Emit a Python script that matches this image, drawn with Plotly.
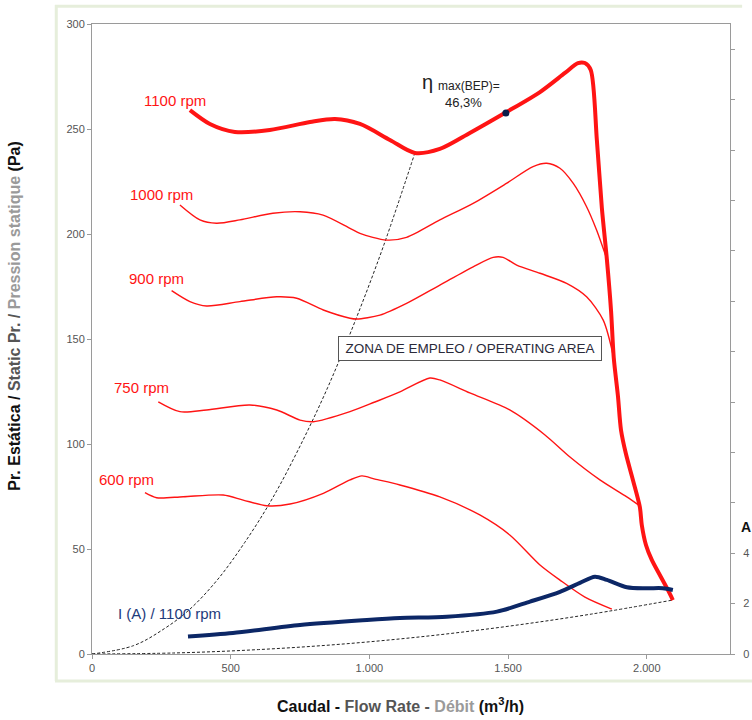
import plotly.graph_objects as go

# ---- Fan curves: static pressure (Pa) vs flow rate (m3/h) ----
q_1100 = [353, 425, 515, 641, 786, 876, 966, 1074, 1164, 1254, 1362, 1488, 1615, 1705, 1752, 1777,
          1798, 1820, 1838, 1856, 1871, 1881, 1896, 1907, 1925, 1950, 1975, 1982, 1997, 2018, 2047, 2076, 2094]
p_1100 = [259.0, 252.4, 248.6, 249.5, 253.3, 254.8, 252.4, 244.8, 238.6, 240.5, 248.1, 257.6, 267.6, 276.7, 281.4, 281.4,
          278.1, 244.8, 212.4, 188.1, 163.8, 141.0, 122.9, 106.7, 95.2, 82.9, 70.0, 61.4, 51.9, 44.8, 37.6, 30.5, 25.7]

q_1000 = [317, 389, 449, 533, 652, 750, 833, 930, 966, 1062, 1134, 1254, 1374, 1494, 1590, 1639, 1687, 1735, 1783, 1819, 1856]
p_1000 = [213.8, 206.7, 205.1, 206.7, 209.9, 210.6, 209.0, 202.7, 200.3, 197.1, 198.4, 206.7, 214.6, 224.1, 232.1, 233.7,
          231.3, 224.1, 213.0, 201.9, 188.1]

q_900 = [287, 353, 413, 533, 666, 738, 834, 930, 954, 1038, 1134, 1254, 1374, 1446, 1482, 1531, 1615, 1711, 1783, 1843, 1881]
p_900 = [173.0, 167.8, 165.7, 167.8, 170.1, 169.4, 163.8, 159.9, 159.5, 161.4, 167.0, 175.7, 184.4, 188.9, 188.9, 185.2,
         181.3, 176.5, 170.1, 159.0, 141.0]

q_750 = [239, 317, 413, 569, 666, 750, 798, 930, 1020, 1110, 1218, 1254, 1362, 1506, 1633, 1723, 1831, 1928, 1975]
p_750 = [120.1, 115.4, 116.2, 118.6, 116.2, 111.4, 110.6, 115.4, 120.0, 124.8, 131.4, 130.5, 124.3, 116.2, 104.3, 93.8,
         82.9, 74.8, 70.5]

q_600 = [191, 233, 329, 473, 545, 630, 714, 834, 930, 973, 1020, 1110, 1254, 1398, 1506, 1615, 1687, 1777, 1874]
p_600 = [76.8, 74.4, 74.9, 75.7, 73.3, 70.6, 71.4, 76.5, 82.9, 84.8, 83.3, 80.5, 74.8, 66.2, 56.7, 42.4, 35.2, 27.1, 21.4]

# Motor current at 1100 rpm (A, right axis)
q_amp = [346, 508, 750, 991, 1110, 1279, 1460, 1579, 1687, 1759, 1813, 1856, 1928, 2000, 2058, 2094]
i_amp = [0.69, 0.83, 1.15, 1.35, 1.43, 1.48, 1.68, 2.08, 2.47, 2.82, 3.07, 2.94, 2.65, 2.61, 2.61, 2.54]

# Operating-area boundaries (system curves)
q_sys_hi = [0, 150, 260, 350, 450, 550, 650, 750, 850, 950, 1050, 1164]
p_sys_hi = [0, 4, 12, 21, 35, 53, 74, 99, 127, 159, 194, 238.6]
q_sys_lo = [0, 300, 600, 900, 1200, 1500, 1800, 2094]
p_sys_lo = [0, 0.5, 2.1, 4.7, 8.4, 13.2, 19.0, 25.7]

# Best efficiency point
bep_q = [1492]
bep_p = [257.6]

x_ticks = [0, 500, 1000, 1500, 2000]
x_tick_text = ["0", "500", "1.000", "1.500", "2.000"]
y_ticks = [0, 50, 100, 150, 200, 250, 300]
amp_ticks = [0, 2, 4]

rpm_labels = ["1100 rpm", "1000 rpm", "900 rpm", "750 rpm", "600 rpm"]
rpm_label_pos = [(299, 263.8), (252, 219.0), (234, 178.6), (180, 127.0), (126, 82.9)]

RED = "#ff1414"
NAVY = "#0c2766"
FONT = "Liberation Sans, Arial, sans-serif"

fig = go.Figure()

dash_line = dict(color="#222222", width=1, dash="3px,2px")
fig.add_trace(go.Scatter(x=q_sys_hi, y=p_sys_hi, mode="lines", line=dict(**dash_line, shape="spline"),
                         hoverinfo="skip"))
fig.add_trace(go.Scatter(x=q_sys_lo, y=p_sys_lo, mode="lines", line=dict(**dash_line, shape="spline"),
                         hoverinfo="skip"))

for qs, ps in [(q_1000, p_1000), (q_900, p_900), (q_750, p_750), (q_600, p_600)]:
    fig.add_trace(go.Scatter(x=qs, y=ps, mode="lines",
                             line=dict(color=RED, width=1.4, shape="spline", smoothing=0.8)))

fig.add_trace(go.Scatter(x=q_1100, y=p_1100, mode="lines",
                         line=dict(color=RED, width=4, shape="spline", smoothing=0.8)))

fig.add_trace(go.Scatter(x=q_amp, y=i_amp, mode="lines", yaxis="y2",
                         line=dict(color=NAVY, width=4, shape="spline", smoothing=0.8)))

fig.add_trace(go.Scatter(x=bep_q, y=bep_p, mode="markers",
                         marker=dict(color="#0b1d4a", size=7)))

annotations = []
for txt, (ax_, ay_) in zip(rpm_labels, rpm_label_pos):
    annotations.append(dict(x=ax_, y=ay_, text=txt, showarrow=False,
                            font=dict(family=FONT, size=15, color=RED)))
annotations.append(dict(x=281, y=19.5, text="I (A) / 1100 rpm", showarrow=False,
                        font=dict(family=FONT, size=15, color="#1d3a7a")))

# efficiency label
annotations.append(dict(x=1208, y=272.5, text="η", showarrow=False, xanchor="center",
                        font=dict(family=FONT, size=20, color="#222")))
annotations.append(dict(x=1240, y=270.5, text="max(BEP)=", showarrow=False, xanchor="left",
                        font=dict(family=FONT, size=12, color="#222")))
annotations.append(dict(x=1340, y=262.5, text="46,3%", showarrow=False, xanchor="center",
                        font=dict(family=FONT, size=13, color="#222")))

# operating area box
annotations.append(dict(x=1362, y=145.7, text="ZONA DE EMPLEO / OPERATING AREA", showarrow=False,
                        bgcolor="white", bordercolor="#555", borderwidth=1, borderpad=2,
                        width=258, height=19,
                        font=dict(family=FONT, size=13.5, color="#2a2a3a")))

# axis titles
annotations.append(dict(
    xref="paper", yref="paper", x=0.484, y=-0.081, xanchor="center", yanchor="middle", showarrow=False,
    text=("<b>Caudal - </b><b><span style='color:#555555'>Flow Rate - </span></b>"
          "<b><span style='color:#9a9a9a'>Débit</span></b><b> (m<sup>3</sup>/h)</b>"),
    font=dict(family=FONT, size=16, color="#111")))
annotations.append(dict(
    xref="paper", yref="paper", x=-0.1207, y=0.537, xanchor="center", yanchor="middle",
    showarrow=False, textangle=-90,
    text=("<b>Pr. Estática / </b><b><span style='color:#555555'>Static Pr. / </span></b>"
          "<b><span style='color:#9a9a9a'>Pression statique</span></b><b> (Pa)</b>"),
    font=dict(family=FONT, size=16, color="#111")))
annotations.append(dict(xref="paper", yref="paper", x=1.0145, y=0.2016, xanchor="left", yanchor="middle",
                        showarrow=False, text="<b>A</b>",
                        font=dict(family=FONT, size=14, color="#111")))

FRAME = "#e6eedb"
shapes = [
    dict(type="line", xref="paper", yref="paper", x0=-0.058, x1=1.019, y0=1.028, y1=1.028,
         line=dict(color=FRAME, width=3)),
    dict(type="line", xref="paper", yref="paper", x0=-0.056, x1=-0.056, y0=-0.043, y1=1.030,
         line=dict(color=FRAME, width=3)),
    dict(type="line", xref="paper", yref="paper", x0=-0.058, x1=1.04, y0=-0.043, y1=-0.043,
         line=dict(color=FRAME, width=3)),
]

axis_common = dict(showgrid=False, zeroline=False, showline=True, linecolor="#9a9a9a", linewidth=1,
                   ticks="outside", tickcolor="#9a9a9a", ticklen=4, automargin=False,
                   tickfont=dict(family=FONT, size=11, color="#555"))

fig.update_layout(
    width=752, height=720, autosize=False,
    margin=dict(l=92, r=22, t=24, b=66),
    paper_bgcolor="white", plot_bgcolor="white",
    showlegend=False,
    xaxis=dict(range=[0, 2300], tickvals=x_ticks, ticktext=x_tick_text, mirror=True, **axis_common),
    yaxis=dict(range=[0, 300], tickvals=y_ticks, mirror=True, **axis_common),
    yaxis2=dict(range=[0, 25], overlaying="y", side="right", tickvals=amp_ticks, ticklabelstandoff=6,
                minor=dict(ticks="outside", ticklen=4, tickcolor="#9a9a9a", tick0=0, dtick=2),
                **axis_common),
    annotations=annotations,
    shapes=shapes,
)

fig.write_html("out.html")
